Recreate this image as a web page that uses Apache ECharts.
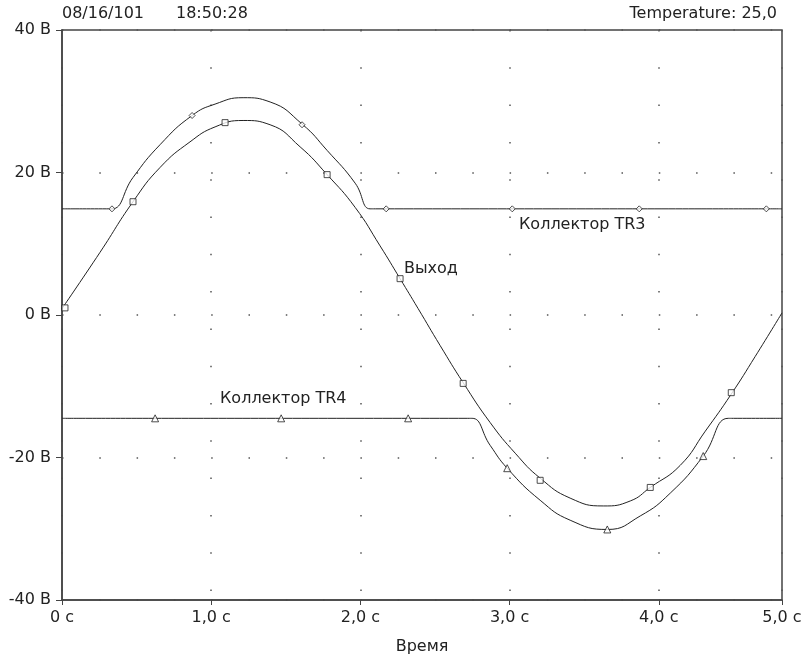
<!DOCTYPE html>
<html>
<head>
<meta charset="utf-8">
<script src="https://cdn.jsdelivr.net/npm/echarts@6/dist/echarts.min.js"></script>
<style>html,body{margin:0;padding:0;background:#fff}#c{width:809px;height:660px}</style>
</head>
<body>
<div id="c"></div>
<script>
// ---- data ----
const xMax = 4.826;
const xTickLabels = ['0 с', '1,0 с', '2,0 с', '3,0 с', '4,0 с', '5,0 с'];
const yTickLabels = ['-40 В', '-20 В', '0 В', '20 В', '40 В'];

const outX = [0, 0.255, 0.476, 0.657, 0.858, 1.026, 1.214, 1.395, 1.596, 1.777, 1.965, 2.132, 2.266, 2.387, 2.535, 2.689, 2.870, 3.038, 3.205, 3.406, 3.628, 3.809, 3.943, 4.144, 4.312, 4.486, 4.647, 4.826];
const outY = [0.9, 8.8, 15.9, 20.7, 24.3, 26.4, 27.3, 26.7, 23.6, 19.7, 15.1, 9.7, 5.1, 0.9, -4.3, -9.5, -15.1, -19.4, -22.9, -25.7, -26.8, -26.1, -24.2, -21.1, -16.3, -11.1, -5.8, 0.3];

const tr3X = [0, 0.30, 0.335, 0.476, 0.657, 0.872, 1.026, 1.214, 1.395, 1.609, 1.777, 1.965, 2.065, 2.10, 4.826];
const tr3Y = [14.9, 14.9, 14.9, 19.3, 23.9, 28.0, 29.6, 30.5, 29.9, 26.8, 23.1, 18.5, 14.9, 14.9, 14.9];

const tr4X = [0, 2.72, 2.749, 2.870, 2.984, 3.205, 3.406, 3.655, 3.876, 4.077, 4.298, 4.466, 4.50, 4.826];
const tr4Y = [-14.5, -14.5, -14.5, -18.3, -21.5, -26.0, -28.8, -30.1, -28.2, -25.0, -19.8, -14.5, -14.5, -14.5];

const outMarkX = [0.02, 0.476, 1.093, 1.777, 2.266, 2.689, 3.205, 3.943, 4.486];
const outMarkY = [1.0, 15.9, 27.0, 19.7, 5.1, -9.6, -23.2, -24.2, -10.9];
const tr3MarkX = [0.335, 0.872, 1.609, 2.173, 3.018, 3.869, 4.721];
const tr3MarkY = [14.9, 28.0, 26.7, 14.9, 14.9, 14.9, 14.9];
const tr4MarkX = [0.624, 1.469, 2.320, 2.984, 3.655, 4.298];
const tr4MarkY = [-14.5, -14.5, -14.5, -21.5, -30.1, -19.8];

const seriesNames = ['Выход', 'Коллектор TR3', 'Коллектор TR4'];
const headerDate = '08/16/101';
const headerTime = '18:50:28';
const headerTemp = 'Temperature: 25,0';
const xName = 'Время';

// ---- build ----
const zip = (xs, ys) => xs.map((x, i) => [x, ys[i]]);
const FONT = 'DejaVu Sans';
const INK = '#222';

const chart = echarts.init(document.getElementById('c'), null, {renderer: 'canvas'});
const lineStyle = {color: INK, width: 1};
const markStyle = {color: '#fff', borderColor: INK, borderWidth: 1};

chart.setOption({
  animation: false,
  backgroundColor: '#fff',
  grid: {left: 62, right: 27, top: 30, bottom: 59, show: true, borderColor: '#444', borderWidth: 1.5, backgroundColor: 'transparent'},
  xAxis: {
    type: 'value', min: 0, max: xMax, interval: 1,
    name: xName, nameLocation: 'middle', nameGap: 39,
    nameTextStyle: {fontFamily: FONT, fontSize: 16, color: INK},
    axisLine: {show: true, onZero: false, lineStyle: {color: '#444', width: 1.5}},
    axisTick: {show: true, length: 5, lineStyle: {color: '#444'}},
    axisLabel: {show: true, showMaxLabel: true, showMinLabel: true, margin: 10, fontFamily: FONT, fontSize: 16, color: INK,
      formatter: (v, i) => xTickLabels[i]},
    splitLine: {show: true, lineStyle: {color: '#555', width: 1.5, type: [1.5, 35.8]}}
  },
  yAxis: {
    type: 'value', min: -40, max: 40, interval: 20,
    axisLine: {show: true, onZero: false, lineStyle: {color: '#444', width: 1.5}},
    axisTick: {show: true, length: 6, lineStyle: {color: '#444'}},
    axisLabel: {margin: 11, fontFamily: FONT, fontSize: 16, color: INK,
      formatter: (v, i) => yTickLabels[i]},
    splitLine: {show: true, lineStyle: {color: '#555', width: 1.5, type: [1.5, 35.8]}}
  },
  series: [
    {name: seriesNames[0], type: 'line', data: zip(outX, outY), symbol: 'none', smooth: 0.5, lineStyle: lineStyle, z: 3},
    {name: seriesNames[1], type: 'line', data: zip(tr3X, tr3Y), symbol: 'none', smooth: 0.5, lineStyle: lineStyle, z: 3},
    {name: seriesNames[2], type: 'line', data: zip(tr4X, tr4Y), symbol: 'none', smooth: 0.5, lineStyle: lineStyle, z: 3},
    {type: 'scatter', data: zip(outMarkX, outMarkY), symbol: 'rect', symbolSize: 6, itemStyle: markStyle, z: 5},
    {type: 'scatter', data: zip(tr3MarkX, tr3MarkY), symbol: 'diamond', symbolSize: 6, itemStyle: markStyle, z: 5},
    {type: 'scatter', data: zip(tr4MarkX, tr4MarkY), symbol: 'triangle', symbolSize: 7, itemStyle: markStyle, z: 5}
  ],
  graphic: [
    {type: 'text', left: 62, top: 6, style: {text: headerDate, font: '16px "DejaVu Sans"', fill: INK}},
    {type: 'text', left: 176, top: 6, style: {text: headerTime, font: '16px "DejaVu Sans"', fill: INK}},
    {type: 'text', right: 32, top: 6, style: {text: headerTemp, font: '16px "DejaVu Sans"', fill: INK}},
    {type: 'text', left: 519, top: 217, style: {text: seriesNames[1], font: '16px "DejaVu Sans"', fill: INK}},
    {type: 'text', left: 404, top: 261, style: {text: seriesNames[0], font: '16px "DejaVu Sans"', fill: INK}},
    {type: 'text', left: 220, top: 391, style: {text: seriesNames[2], font: '16px "DejaVu Sans"', fill: INK}}
  ]
});
</script>
</body>
</html>
